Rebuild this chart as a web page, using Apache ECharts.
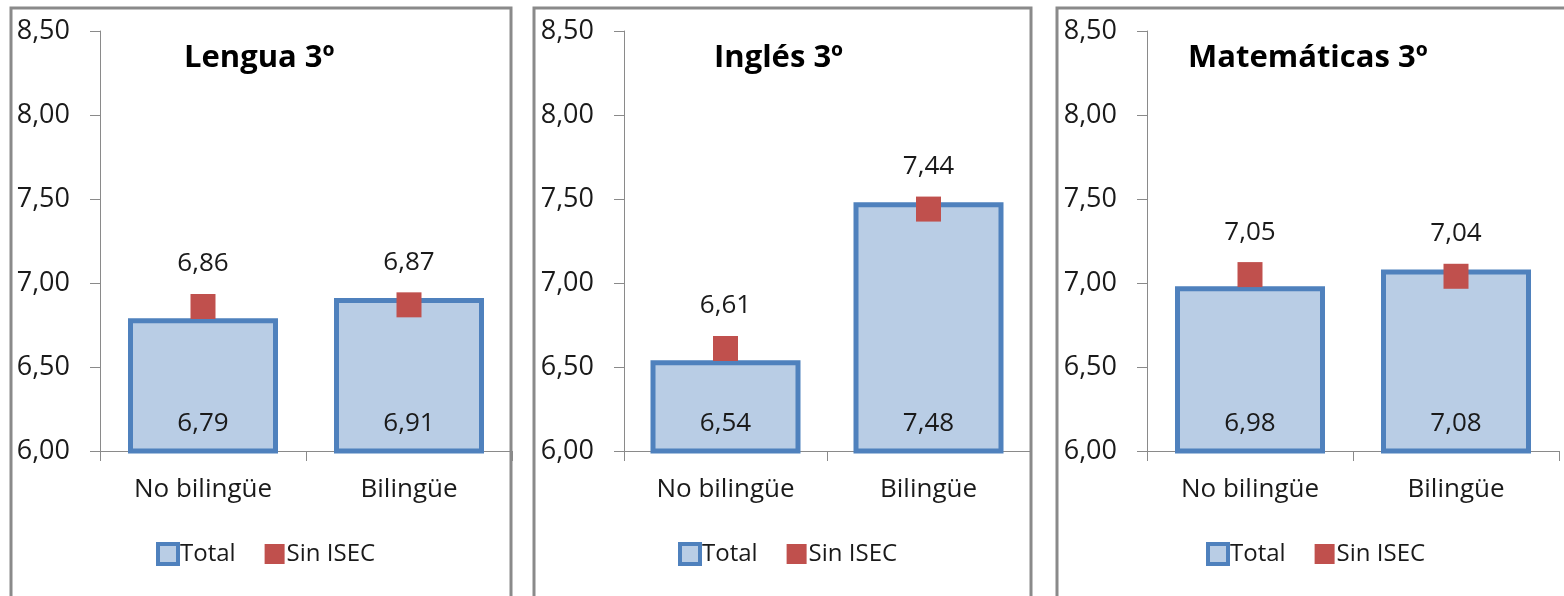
<!DOCTYPE html>
<html><head><meta charset="utf-8">
<script src="https://cdn.jsdelivr.net/npm/echarts@6/dist/echarts.min.js"></script>
<style>html,body{margin:0;padding:0;background:#fff}#c{width:1564px;height:596px}</style>
</head><body><div id="c"></div>
<script>
const categories = ['No bilingüe', 'Bilingüe'];
const subjects = ['Lengua 3º', 'Inglés 3º', 'Matemáticas 3º'];
const totalLengua = [6.79, 6.91];
const sinIsecLengua = [6.86, 6.87];
const totalIngles = [6.54, 7.48];
const sinIsecIngles = [6.61, 7.44];
const totalMates = [6.98, 7.08];
const sinIsecMates = [7.05, 7.04];
const yMin = 6.0, yMax = 8.5, yStep = 0.5;

const totals = [totalLengua, totalIngles, totalMates];
const sinIsec = [sinIsecLengua, sinIsecIngles, sinIsecMates];

const FONT = 'Open Sans';
const fmt = v => Number(v).toFixed(2).replace('.', ',');

// layout per panel
const panels = [
  {border: [11, 511], gridLeft: 100, gridWidth: 412, titleLeft: 179, legendLeft: 151},
  {border: [534, 1031], gridLeft: 624, gridWidth: 406, titleLeft: 709, legendLeft: 673},
  {border: [1057, 1600], gridLeft: 1147, gridWidth: 412, titleLeft: 1183, legendLeft: 1201}
];

const grid = [], xAxis = [], yAxis = [], series = [], title = [], legend = [], graphic = [];
panels.forEach((p, i) => {
  graphic.push({type: 'rect', shape: {x: p.border[0], y: 8, width: p.border[1] - p.border[0], height: 640},
    style: {fill: 'none', stroke: '#8a8a8a', lineWidth: 3}, silent: true, z: -1});
  grid.push({left: p.gridLeft, top: 31, width: p.gridWidth, height: 420});
  xAxis.push({type: 'category', gridIndex: i, data: categories,
    axisLine: {lineStyle: {color: '#8a8a8a', width: 1}},
    axisTick: {show: true, length: 10, lineStyle: {color: '#8a8a8a'}},
    axisLabel: {fontFamily: FONT, fontSize: 26, color: '#1a1a1a', margin: 26}});
  yAxis.push({type: 'value', gridIndex: i, min: yMin, max: yMax, interval: yStep,
    splitLine: {show: false},
    axisLine: {show: true, lineStyle: {color: '#8a8a8a', width: 1}},
    axisTick: {show: true, length: 10, lineStyle: {color: '#8a8a8a'}},
    axisLabel: {fontFamily: FONT, fontSize: 27, color: '#1a1a1a', margin: 30, formatter: fmt}});
  series.push({name: 'Total', type: 'bar', xAxisIndex: i, yAxisIndex: i, data: totals[i],
    barWidth: 150,
    itemStyle: {color: '#b9cde5', borderColor: '#4f81bd', borderWidth: 5},
    label: {show: true, position: 'insideBottom', distance: 17, fontFamily: FONT, fontSize: 26,
      color: '#1a1a1a', formatter: o => fmt(o.value)}});
  series.push({name: 'Sin ISEC', type: 'scatter', xAxisIndex: i, yAxisIndex: i, data: sinIsec[i],
    symbol: 'rect', symbolSize: 25, z: 5,
    itemStyle: {color: '#c0504d', opacity: 1},
    label: {show: true, position: 'top', distance: 17, fontFamily: FONT, fontSize: 26,
      color: '#1a1a1a', formatter: o => fmt(o.value)}});
  title.push({text: subjects[i], left: p.titleLeft, top: 38,
    textStyle: {fontFamily: FONT, fontSize: 31, fontWeight: 'bold', color: '#000'}});
  legend.push({left: p.legendLeft, top: 537, itemWidth: 20, itemHeight: 20, itemGap: 29,
    icon: 'rect',
    textStyle: {fontFamily: FONT, fontSize: 24, color: '#1a1a1a', padding: [0, 0, 0, -3]},
    data: [
      {name: 'Total', itemStyle: {color: '#b9cde5', borderColor: '#4f81bd', borderWidth: 4}},
      {name: 'Sin ISEC', itemStyle: {color: '#c0504d', borderWidth: 0}}
    ]});
});

const chart = echarts.init(document.getElementById('c'), null, {renderer: 'canvas'});
chart.setOption({
  animation: false,
  backgroundColor: '#fff',
  title, legend, grid, xAxis, yAxis, series, graphic
});
</script>
</body></html>
